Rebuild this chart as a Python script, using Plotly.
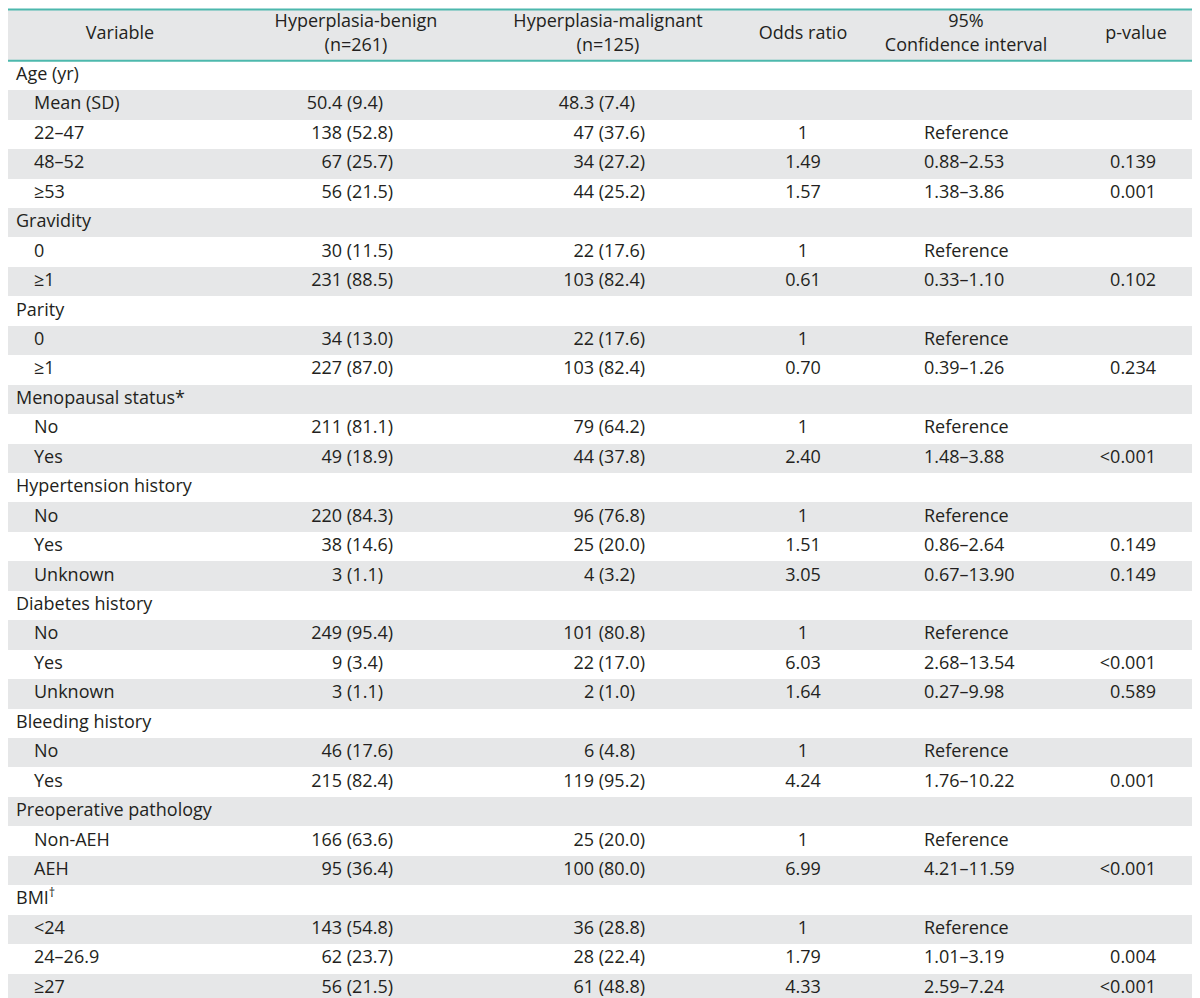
import re
import plotly.graph_objects as go

# ---------------- data ----------------
header_labels = ["Variable", "Hyperplasia-benign<br>(n=261)", "Hyperplasia-malignant<br>(n=125)",
                 "Odds ratio", "95%<br>Confidence interval", "p-value"]

row_labels = ["Age (yr)", "Mean (SD)", "22–47", "48–52", "≥53",
              "Gravidity", "0", "≥1",
              "Parity", "0", "≥1",
              "Menopausal status*", "No", "Yes",
              "Hypertension history", "No", "Yes", "Unknown",
              "Diabetes history", "No", "Yes", "Unknown",
              "Bleeding history", "No", "Yes",
              "Preoperative pathology", "Non-AEH", "AEH",
              "BMI<sup>†</sup>", "&lt;24", "24–26.9", "≥27"]

row_level = [0, 1, 1, 1, 1,
             0, 1, 1,
             0, 1, 1,
             0, 1, 1,
             0, 1, 1, 1,
             0, 1, 1, 1,
             0, 1, 1,
             0, 1, 1,
             0, 1, 1, 1]

benign = ["", "50.4 (9.4)", "138 (52.8)", "67 (25.7)", "56 (21.5)",
          "", "30 (11.5)", "231 (88.5)",
          "", "34 (13.0)", "227 (87.0)",
          "", "211 (81.1)", "49 (18.9)",
          "", "220 (84.3)", "38 (14.6)", "3 (1.1)",
          "", "249 (95.4)", "9 (3.4)", "3 (1.1)",
          "", "46 (17.6)", "215 (82.4)",
          "", "166 (63.6)", "95 (36.4)",
          "", "143 (54.8)", "62 (23.7)", "56 (21.5)"]

malignant = ["", "48.3 (7.4)", "47 (37.6)", "34 (27.2)", "44 (25.2)",
             "", "22 (17.6)", "103 (82.4)",
             "", "22 (17.6)", "103 (82.4)",
             "", "79 (64.2)", "44 (37.8)",
             "", "96 (76.8)", "25 (20.0)", "4 (3.2)",
             "", "101 (80.8)", "22 (17.0)", "2 (1.0)",
             "", "6 (4.8)", "119 (95.2)",
             "", "25 (20.0)", "100 (80.0)",
             "", "36 (28.8)", "28 (22.4)", "61 (48.8)"]

odds_ratio = ["", "", "1", "1.49", "1.57",
              "", "1", "0.61",
              "", "1", "0.70",
              "", "1", "2.40",
              "", "1", "1.51", "3.05",
              "", "1", "6.03", "1.64",
              "", "1", "4.24",
              "", "1", "6.99",
              "", "1", "1.79", "4.33"]

conf_int = ["", "", "Reference", "0.88–2.53", "1.38–3.86",
            "", "Reference", "0.33–1.10",
            "", "Reference", "0.39–1.26",
            "", "Reference", "1.48–3.88",
            "", "Reference", "0.86–2.64", "0.67–13.90",
            "", "Reference", "2.68–13.54", "0.27–9.98",
            "", "Reference", "1.76–10.22",
            "", "Reference", "4.21–11.59",
            "", "Reference", "1.01–3.19", "2.59–7.24"]

p_value = ["", "", "", "0.139", "0.001",
           "", "", "0.102",
           "", "", "0.234",
           "", "", "&lt;0.001",
           "", "", "0.149", "0.149",
           "", "", "&lt;0.001", "0.589",
           "", "", "0.001",
           "", "", "&lt;0.001",
           "", "", "0.004", "&lt;0.001"]

# ---------------- style ----------------
W, H = 1200, 998
FONT = "Open Sans"
FS = 18
TXT = "#231f20"
GRAY = "#e6e7e8"
TEAL = "#4cb8ad"
HEADER_UNITS = 1.77          # header height in row units
n = len(row_labels)
top = -0.5 - HEADER_UNITS
bottom = n - 0.5

# column anchors (x in pixel-like units of the axis)
COL_LABEL_X = [8, 26]
HEADER_X = [112, 348, 600, 795, 958, 1128]
BENIGN_RIGHT = 385
MALIG_RIGHT = 637
OR_CENTER = 795
CI_LEFT = 916
P_RIGHT = 1148
SHORT_PAD = 10  # single-digit percentages sit one digit further left

rows = list(range(n))


def short_shift(s):
    return SHORT_PAD if re.search(r"\(\d\.", s) else 0


fig = go.Figure()

# row shading
gray_rows = [i for i in rows if i % 2 == 1]
fig.add_trace(go.Bar(orientation="h", y=gray_rows, x=[W] * len(gray_rows), base=0,
                     width=1, marker=dict(color=GRAY, line=dict(width=0)),
                     hoverinfo="skip", showlegend=False))
fig.add_trace(go.Bar(orientation="h", y=[(top + -0.5) / 2], x=[W], base=0,
                     width=HEADER_UNITS, marker=dict(color=GRAY, line=dict(width=0)),
                     hoverinfo="skip", showlegend=False))

font = dict(family=FONT, size=FS, color=TXT)

# header
fig.add_trace(go.Scatter(x=HEADER_X, y=[(top - 0.5) / 2] * len(header_labels), mode="text",
                         text=header_labels, textposition="middle center",
                         textfont=font, hoverinfo="skip", showlegend=False, cliponaxis=False))

# labels
fig.add_trace(go.Scatter(x=[COL_LABEL_X[l] for l in row_level], y=rows, mode="text",
                         text=row_labels, textposition="middle right",
                         textfont=font, hoverinfo="skip", showlegend=False, cliponaxis=False))


def col_trace(vals, xs, pos):
    idx = [i for i in rows if vals[i]]
    fig.add_trace(go.Scatter(x=[xs[i] for i in idx], y=idx, mode="text",
                             text=[vals[i] for i in idx], textposition=pos,
                             textfont=font, hoverinfo="skip", showlegend=False,
                             cliponaxis=False))


col_trace(benign, [BENIGN_RIGHT - short_shift(s) for s in benign], "middle left")
col_trace(malignant, [MALIG_RIGHT - short_shift(s) for s in malignant], "middle left")
col_trace(odds_ratio, [OR_CENTER] * n, "middle center")
col_trace(conf_int, [CI_LEFT] * n, "middle right")
col_trace(p_value, [P_RIGHT] * n, "middle left")

# rules
for yy in [top + 0.03, -0.5, bottom]:
    fig.add_shape(type="line", xref="paper", x0=0, x1=1, yref="y", y0=yy, y1=yy,
                  line=dict(color=TEAL, width=2), layer="above")

fig.update_layout(
    width=W, height=H, margin=dict(l=0, r=0, t=0, b=0),
    paper_bgcolor="white", plot_bgcolor="white",
    barmode="overlay", bargap=0,
    xaxis=dict(range=[0, W], visible=False, fixedrange=True),
    yaxis=dict(range=[bottom + 0.1, top - 0.02], visible=False, fixedrange=True),
    showlegend=False,
)

fig.write_html("out.html")
